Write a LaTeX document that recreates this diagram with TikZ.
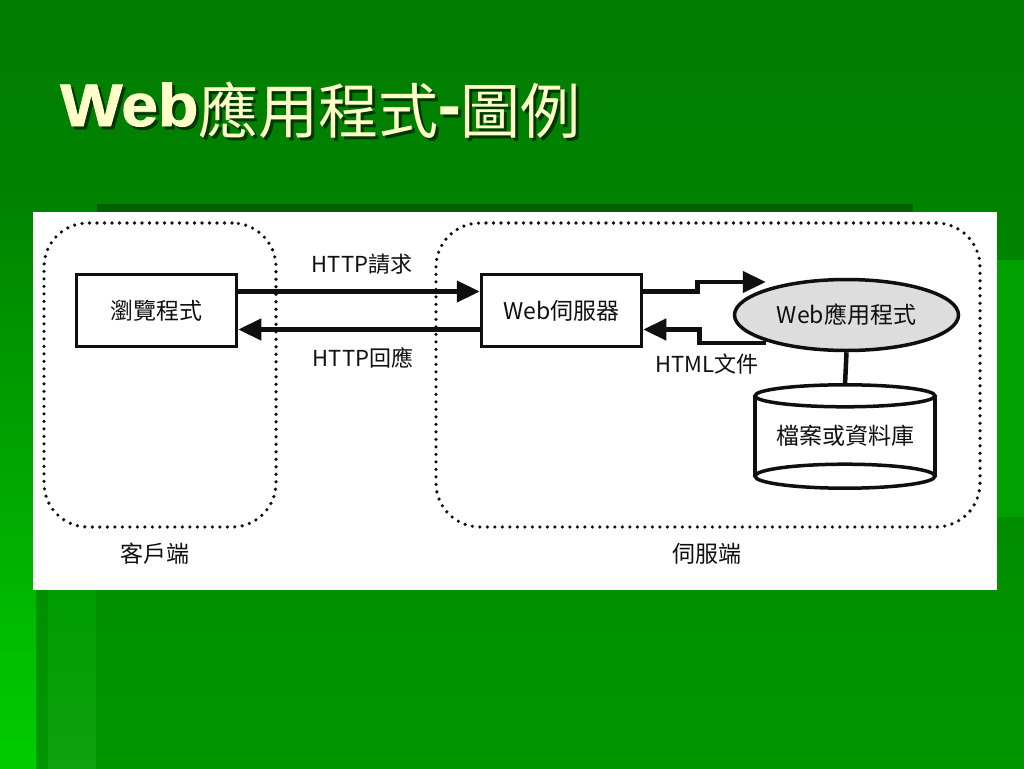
\documentclass[tikz,border=0pt]{standalone}
\usepackage{fontspec}
\setmainfont{Noto Sans CJK TC}
\newfontfamily\cjk{Noto Sans CJK TC}
\newfontfamily\titlelat[FakeStretch=1.1,FakeBold=1.5]{Liberation Sans}
\usetikzlibrary{arrows.meta,shapes.geometric,calc}
\definecolor{bgtop}{RGB}{0,124,0}
\definecolor{bgbot}{RGB}{0,150,0}
\definecolor{stripstart}{RGB}{0,131,0}
\definecolor{stripbright}{RGB}{0,205,0}
\definecolor{stripmid}{RGB}{0,156,0}
\definecolor{rightband}{RGB}{0,160,0}
\definecolor{shadowbar}{RGB}{0,96,0}
\definecolor{titleyellow}{RGB}{255,255,200}
\definecolor{titleshadow}{RGB}{0,55,0}
\definecolor{appgray}{RGB}{221,221,221}
\definecolor{ink}{RGB}{15,15,15}
\newcommand\mytitletext{{\titlelat\bfseries Web}{\cjk\raisebox{-7pt}{應用程式}}{\titlelat\bfseries -}{\cjk\raisebox{-7pt}{圖例}}}
\begin{document}
\begin{tikzpicture}[x=1pt,y=-1pt,
  box/.style={draw=ink, line width=3.5pt, minimum width=160pt, minimum height=72pt,
    inner sep=0pt, font=\fontsize{23}{27}\selectfont, text=ink},
  arr/.style={draw=ink, line width=4.5pt, -{Triangle[length=23pt,width=21pt]}},
  conn/.style={draw=ink, line width=4.5pt},
  dbline/.style={draw=ink, line width=3.5pt},
  group/.style={draw=ink, line width=3.6pt, dash pattern=on 0pt off 7.5pt, line cap=round,
    rounded corners=44pt, inner sep=0pt},
  lbl/.style={font=\fontsize{22}{26}\selectfont, text=ink, inner sep=0pt},
  titlestyle/.style={anchor=base west, inner sep=0pt, font=\fontsize{60}{70}\selectfont}
]
\useasboundingbox (0,0) rectangle (1024,768);
% background
\shade[top color=bgtop, bottom color=bgbot] (0,0) rectangle (1024,768);
\shade[top color=stripstart, bottom color=stripbright] (0,200) rectangle (36,768);
\shade[top color=stripmid, bottom color=stripmid!94!white] (48,590) rectangle (96,768);
\fill[rightband] (997,260) rectangle (1024,517);
\fill[shadowbar] (97,204) rectangle (913,212);
\fill[white] (33,212) rectangle (997,590);
% title with shadow
\node[titlestyle, text=titleshadow] (titleshadow) at (63,129) {\mytitletext};
\node[titlestyle, text=titleyellow] (title) at (60,126) {\mytitletext};
% groups
\node[group, minimum width=232pt, minimum height=304pt] (client) at (160,375) {};
\node[group, minimum width=544pt, minimum height=304pt] (servergrp) at (708,375) {};
\node[lbl, font=\fontsize{23}{27}\selectfont] (clientlbl) at (155,554) {客戶端};
\node[lbl, font=\fontsize{23}{27}\selectfont] (serverlbl) at (707,554) {伺服端};
% nodes
\node[box] (browser) at (156.5,310.5) {瀏覽程式};
\node[box] (server) at (561.5,310.5) {Web伺服器};
\node[ellipse, draw=ink, line width=3.5pt, fill=appgray, minimum width=224pt, minimum height=71pt,
  inner sep=0pt, font=\fontsize{23}{27}\selectfont, text=ink] (app) at (846.5,315) {Web應用程式};
\node[inner sep=0pt, minimum width=180pt, minimum height=80pt, font=\fontsize{23}{27}\selectfont, text=ink]
  (db) at (845,436) {檔案或資料庫};
\draw[dbline] (db.north west) -- (db.south west) (db.north east) -- (db.south east);
\draw[dbline] (db.north) ellipse [x radius=90, y radius=11];
\draw[dbline] (db.south) ellipse [x radius=90, y radius=12];
% connectors
\draw[arr] ([yshift=19pt]browser.east) -- ([yshift=19pt]server.west);
\draw[arr] ([yshift=-19pt]server.west) -- ([yshift=-19pt]browser.east);
\node[lbl] (req) at (362,264) {HTTP請求};
\node[lbl] (resp) at (363,358) {HTTP回應};
\draw[arr] ([yshift=19pt]server.east) -- ++(54,0) |- ($(app.west)+(33,-33)$);
\draw[arr] ($(app.west)+(33,28)$) -| ($(server.east)+(56,19)$) -- ([yshift=-19pt]server.east);
\node[lbl] (html) at (707,364) {HTML文件};
\draw[conn] (app.south) -- ($(db.north)+(0,-11)$);
\end{tikzpicture}
\end{document}
